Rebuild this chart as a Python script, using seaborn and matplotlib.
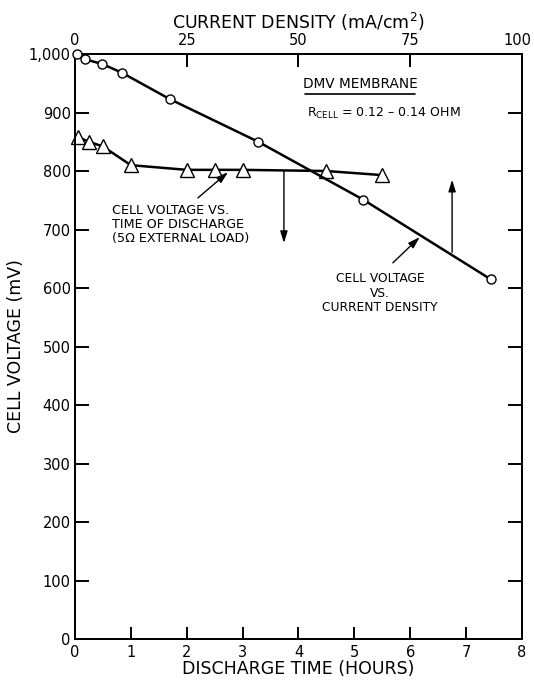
import matplotlib
matplotlib.use("Agg")
import matplotlib.pyplot as plt
from matplotlib.ticker import FixedLocator
from matplotlib.transforms import ScaledTranslation
import seaborn as sns

# Discharge at 5 ohm external load: cell voltage vs. time
discharge_hours = [0.05, 0.25, 0.5, 1.0, 2.0, 2.5, 3.0, 4.5, 5.5]
voltage_vs_time = [858, 850, 842, 810, 802, 802, 802, 800, 793]

# Polarization: cell voltage vs. current density
current_density = [0.4, 2.2, 6.1, 10.5, 21.2, 41.0, 64.5, 93.0]
voltage_vs_cd = [1000, 991, 983, 968, 923, 850, 751, 615]

hour_ticks = [0, 1, 2, 3, 4, 5, 6, 7, 8]
cd_ticks = [0, 25, 50, 75, 100]
mv_ticks = [0, 100, 200, 300, 400, 500, 600, 700, 800, 900, 1000]
mv_labels = ["0", "100", "200", "300", "400", "500", "600", "700", "800", "900", "1,000"]

sns.set_style("ticks")
ink = "black"
plt.rcParams["font.family"] = ["DejaVu Sans"]
plt.rcParams.update({"text.color": ink, "axes.labelcolor": ink,
                     "xtick.color": ink, "ytick.color": ink})

fig = plt.figure(figsize=(5.34, 6.82), dpi=100)
ax = fig.add_axes([0.1404, 0.0630, 0.837, 0.8578])
ax2 = ax.twiny()

tick_fs = 10.5
label_fs = 12.5

# time series (bottom axis)
sns.lineplot(x=discharge_hours, y=voltage_vs_time, ax=ax, color=ink, linewidth=1.8,
             marker="^", markersize=10, markerfacecolor="white",
             markeredgecolor=ink, markeredgewidth=1.0, clip_on=False, zorder=3)

# current-density series (top axis)
sns.lineplot(x=current_density, y=voltage_vs_cd, ax=ax2, color=ink, linewidth=1.8,
             marker="o", markersize=6.5, markerfacecolor="white",
             markeredgecolor=ink, markeredgewidth=1.0, clip_on=False, zorder=3)

ax.set_xlim(0, 8)
ax.set_ylim(0, 1000)
ax2.set_xlim(0, 100)
ax2.set_ylim(0, 1000)

ax.xaxis.set_major_locator(FixedLocator(hour_ticks))
ax.set_xticklabels([str(h) for h in hour_ticks])
ax.yaxis.set_major_locator(FixedLocator(mv_ticks))
ax.set_yticklabels(mv_labels)
ax2.xaxis.set_major_locator(FixedLocator(cd_ticks))
ax2.set_xticklabels([str(c) for c in cd_ticks])

for a in (ax, ax2):
    for s in a.spines.values():
        s.set_linewidth(1.4)
        s.set_color(ink)
        s.set_visible(True)

ax.tick_params(axis="x", direction="in", length=9, width=1.4, pad=4,
               labelsize=tick_fs, top=False)
ax.tick_params(axis="y", direction="in", length=10, width=1.4, pad=3,
               labelsize=tick_fs, right=True, labelright=False)
ax2.tick_params(axis="x", direction="in", length=9, width=1.4, pad=4,
                labelsize=tick_fs)

# nudge the last top-axis label inward so it stays on the canvas
last = ax2.xaxis.get_major_ticks()[-1].label2
last.set_transform(last.get_transform() + ScaledTranslation(-4 / 100, 0, fig.dpi_scale_trans))

ax.set_xlabel("DISCHARGE TIME (HOURS)", fontsize=label_fs)
ax.xaxis.set_label_coords(0.5, -0.035)
ax.set_ylabel("CELL VOLTAGE (mV)", fontsize=label_fs)
ax.yaxis.set_label_coords(-0.112, 0.5)
ax2.set_xlabel("CURRENT DENSITY (mA/cm$^{2}$)", fontsize=label_fs)
ax2.xaxis.set_label_coords(0.5, 1.042)

# title block
ax.text(5.10, 949, "DMV MEMBRANE", fontsize=9.8, ha="center", va="center")
ax.plot([4.12, 6.08], [931, 931], color=ink, linewidth=1.2, clip_on=False)
ax.text(4.15, 899, r"R$_{\mathregular{CELL}}$ = 0.12 – 0.14 OHM", fontsize=9,
        ha="left", va="center")

# callouts
ax.text(0.66, 709, "CELL VOLTAGE VS.\nTIME OF DISCHARGE\n(5Ω EXTERNAL LOAD)",
        fontsize=9.2, ha="left", va="center", linespacing=1.1)
ax.text(5.46, 591, "CELL VOLTAGE\nVS.\nCURRENT DENSITY",
        fontsize=8.8, ha="center", va="center", multialignment="center",
        linespacing=1.15)

head = dict(arrowstyle="-|>,head_length=0.7,head_width=0.22", color=ink, lw=1.0,
            shrinkA=0, shrinkB=0)
ax.annotate("", xy=(2.74, 798), xytext=(2.20, 754), arrowprops=head)
ax.annotate("", xy=(6.17, 687), xytext=(5.69, 643), arrowprops=head)
ax.annotate("", xy=(3.74, 677), xytext=(3.74, 800), arrowprops=head)
ax.annotate("", xy=(6.75, 785), xytext=(6.75, 661), arrowprops=head)

fig.savefig("out.png", dpi=100)
